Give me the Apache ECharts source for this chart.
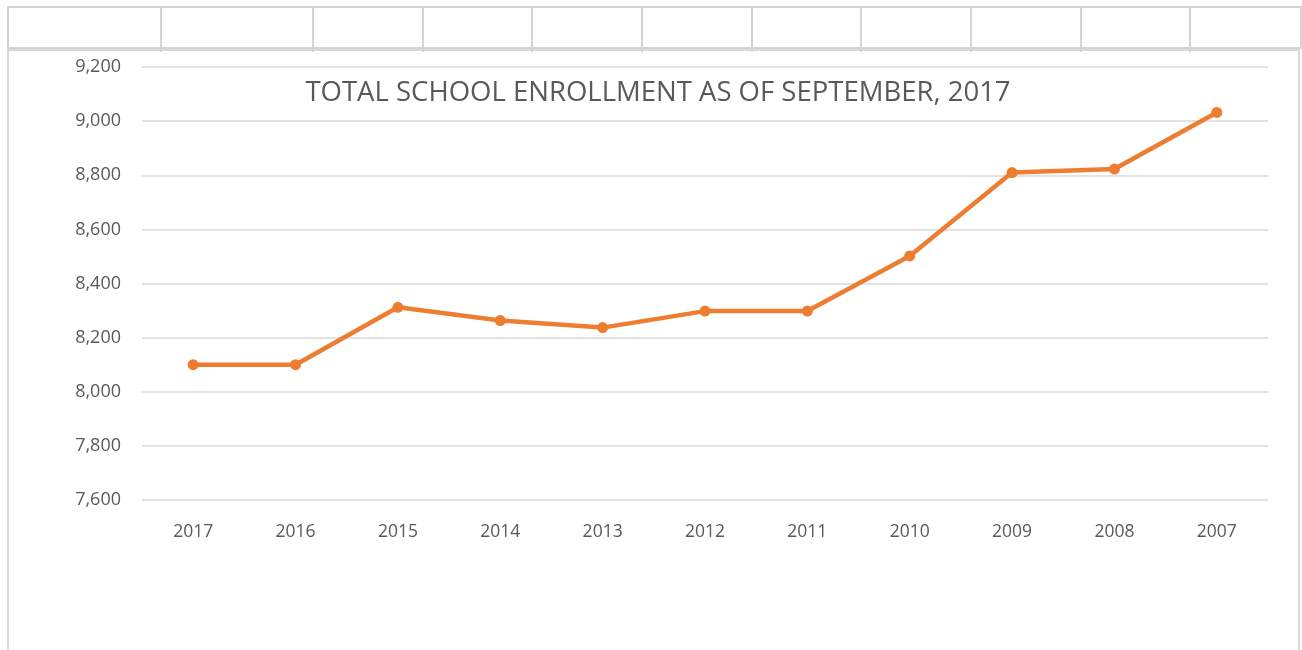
<!DOCTYPE html>
<html>
<head>
<meta charset="utf-8">
<script src="https://cdn.jsdelivr.net/npm/echarts@6/dist/echarts.min.js"></script>
<style>
  html, body { margin: 0; padding: 0; background: #fff; }
  #wrap { position: relative; width: 1302px; height: 650px; overflow: hidden; }
  /* spreadsheet cell row above the chart */
  .cells {
    position: absolute; left: 7px; top: 6px; width: 1291px; height: 39px;
    border: 2px solid #d4d4d4;
  }
  .vline { position: absolute; top: 6px; width: 2px; height: 46px; background: #d4d4d4; }
  #chart {
    position: absolute; left: 0; top: 0; width: 1302px; height: 650px;
  }
  .frame {
    position: absolute; left: 7px; top: 49px; width: 1289px; height: 620px;
    border: 2px solid #d9d9d9; border-bottom: none;
  }
</style>
</head>
<body>
<div id="wrap">
  <div class="cells"></div>
  <div class="frame"></div>
  <div id="chart"></div>
</div>
<script>
// enrollment per school year
const years = ['2017', '2016', '2015', '2014', '2013', '2012', '2011', '2010', '2009', '2008', '2007']
const enrollment = [8100, 8100, 8312, 8263, 8237, 8298, 8298, 8502, 8810, 8823, 9032]
const cellLines = [160, 312, 422, 531, 641, 751, 860, 970, 1080, 1189]

const wrap = document.getElementById('wrap')
cellLines.forEach(x => {
  const d = document.createElement('div')
  d.className = 'vline'
  d.style.left = x + 'px'
  wrap.appendChild(d)
})

const myChart = echarts.init(document.getElementById('chart'), null, { renderer: 'canvas' })
const labelColor = '#595959'
const font = '"Open Sans", sans-serif'

myChart.setOption({
  animation: false,
  title: {
    text: 'TOTAL SCHOOL ENROLLMENT AS OF SEPTEMBER, 2017',
    left: 653,
    top: 74,
    textAlign: 'center',
    textStyle: {
      color: labelColor,
      fontSize: 27.5,
      fontWeight: 'normal',
      fontFamily: font
    }
  },
  grid: {
    left: 142,
    right: 34,
    top: 67,
    bottom: 150
  },
  xAxis: {
    type: 'category',
    data: years,
    boundaryGap: true,
    axisLine: { show: false },
    axisTick: { show: false },
    axisLabel: {
      color: labelColor,
      fontSize: 17.5,
      fontFamily: font,
      margin: 23
    }
  },
  yAxis: {
    type: 'value',
    min: 7600,
    max: 9200,
    interval: 200,
    axisLine: { show: false },
    axisTick: { show: false },
    splitLine: { lineStyle: { color: '#d9d9d9', width: 1.5 } },
    axisLabel: {
      color: labelColor,
      fontSize: 18,
      fontFamily: font,
      margin: 21,
      formatter: v => v.toLocaleString('en-US')
    }
  },
  series: [
    {
      type: 'line',
      data: enrollment,
      symbol: 'circle',
      symbolSize: 11,
      lineStyle: { color: '#ED7D31', width: 4.5 },
      itemStyle: { color: '#ED7D31' }
    }
  ]
})
</script>
</body>
</html>
